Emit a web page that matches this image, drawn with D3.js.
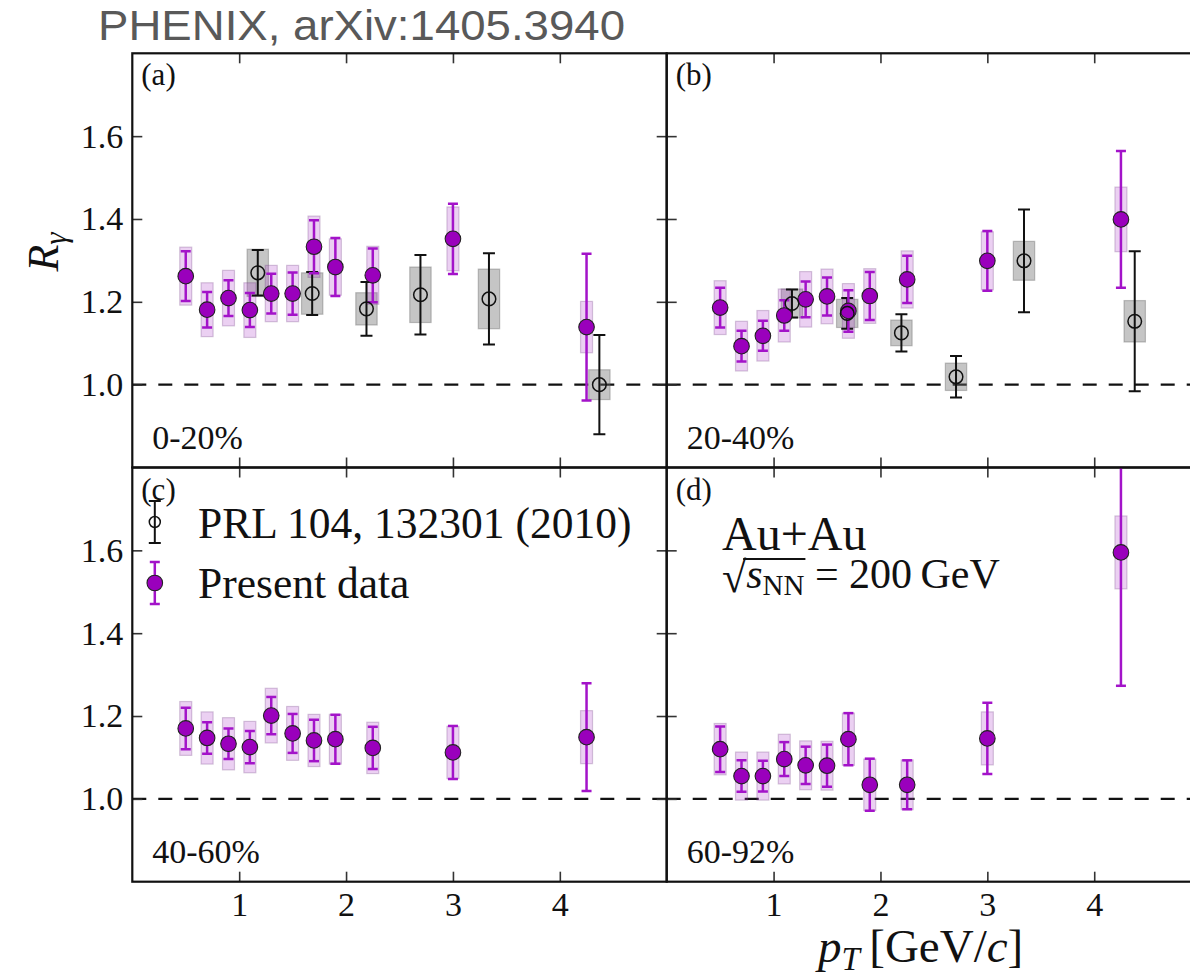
<!DOCTYPE html>
<html>
<head>
<meta charset="utf-8">
<script src="https://cdn.jsdelivr.net/npm/d3@7/dist/d3.min.js"></script>
<style>
  body { margin: 0; background: #fff; }
  svg { display: block; }
  text { font-family: "Liberation Serif", "Times New Roman", "DejaVu Serif", serif; fill: #111; }
</style>
</head>
<body>
<svg id="chart" width="1190" height="980"></svg>
<script>
// ---- data: direct photon R_gamma in Au+Au at 200 GeV, four centrality bins ----
const ptPresent = [0.5, 0.7, 0.9, 1.1, 1.3, 1.5, 1.7, 1.9, 2.25, 3.0, 4.25];

const rPresentA    = [1.262, 1.181, 1.209, 1.180, 1.220, 1.220, 1.333, 1.284, 1.264, 1.352, 1.139];
const statPresentA = [0.060, 0.043, 0.043, 0.041, 0.048, 0.051, 0.064, 0.070, 0.065, 0.085, 0.177];
const sysPresentA  = [0.070, 0.065, 0.067, 0.066, 0.068, 0.068, 0.074, 0.068, 0.070, 0.077, 0.062];

const rPresentB    = [1.186, 1.093, 1.118, 1.167, 1.206, 1.213, 1.178, 1.214, 1.254, 1.299, 1.399];
const statPresentB = [0.048, 0.037, 0.036, 0.037, 0.043, 0.046, 0.050, 0.058, 0.057, 0.072, 0.165];
const sysPresentB  = [0.065, 0.060, 0.061, 0.064, 0.067, 0.066, 0.066, 0.066, 0.069, 0.070, 0.078];

const rPresentC    = [1.170, 1.147, 1.133, 1.125, 1.201, 1.158, 1.141, 1.144, 1.123, 1.112, 1.149];
const statPresentC = [0.050, 0.038, 0.037, 0.039, 0.045, 0.047, 0.050, 0.059, 0.051, 0.064, 0.130];
const sysPresentC  = [0.065, 0.063, 0.063, 0.062, 0.066, 0.065, 0.063, 0.060, 0.062, 0.063, 0.064];

const rPresentD    = [1.120, 1.055, 1.055, 1.096, 1.081, 1.080, 1.144, 1.034, 1.034, 1.146, 1.595];
const statPresentD = [0.055, 0.038, 0.037, 0.041, 0.045, 0.051, 0.063, 0.063, 0.059, 0.086, 0.322];
const sysPresentD  = [0.062, 0.058, 0.058, 0.060, 0.059, 0.059, 0.063, 0.062, 0.060, 0.064, 0.088];

// earlier measurement, PRL 104, 132301 (2010)
const ptPrlA   = [1.174, 1.683, 2.191, 2.696, 3.337, 4.370];
const rPrlA    = [1.270, 1.220, 1.183, 1.217, 1.207, 1.000];
const statPrlA = [0.055, 0.052, 0.065, 0.096, 0.110, 0.120];
const sysPrlA  = [0.057, 0.050, 0.039, 0.067, 0.072, 0.036];

const ptPrlB   = [1.172, 1.689, 2.196, 2.707, 3.343, 4.379];
const rPrlB    = [1.196, 1.172, 1.125, 1.019, 1.299, 1.153];
const statPrlB = [0.034, 0.037, 0.045, 0.050, 0.124, 0.169];
const sysPrlB  = [0.035, 0.034, 0.031, 0.033, 0.047, 0.050];

const panelTags      = ["(a)", "(b)", "(c)", "(d)"];
const centralityBins = ["0-20%", "20-40%", "40-60%", "60-92%"];
const xTickValues    = [1, 2, 3, 4];
const yTickValues    = [1.0, 1.2, 1.4, 1.6];
const legendLabels   = ["PRL 104, 132301 (2010)", "Present data"];
const titleText      = "PHENIX, arXiv:1405.3940";

// ---- layout ----
const LEFT = 132.3, TOP = 53.3, PW = 534.4, PH = 414.2;
const X_DOMAIN = [0, 5], Y_DOMAIN = [0.8, 1.8];
const PURPLE = "#9a00bc", PURPLE_BAR = "#a313c9";
const BOX_HALF_PRESENT = 0.056, BOX_HALF_PRL = 0.1;
const R_PRESENT = 7.8, R_PRL = 6.8;

const svg = d3.select("#chart");
svg.append("rect").attr("width", 1190).attr("height", 980).attr("fill", "#fff");

const panels = [
  { col: 0, row: 0, present: [rPresentA, statPresentA, sysPresentA], prl: [ptPrlA, rPrlA, statPrlA, sysPrlA] },
  { col: 1, row: 0, present: [rPresentB, statPresentB, sysPresentB], prl: [ptPrlB, rPrlB, statPrlB, sysPrlB] },
  { col: 0, row: 1, present: [rPresentC, statPresentC, sysPresentC], prl: null },
  { col: 1, row: 1, present: [rPresentD, statPresentD, sysPresentD], prl: null }
];

const defs = svg.append("defs");

panels.forEach((p, i) => {
  const x0 = LEFT + p.col * PW, y0 = TOP + p.row * PH;
  const x = d3.scaleLinear().domain(X_DOMAIN).range([x0, x0 + PW]);
  const y = d3.scaleLinear().domain(Y_DOMAIN).range([y0 + PH, y0]);

  defs.append("clipPath").attr("id", "clip" + i)
    .append("rect").attr("x", x0).attr("y", y0).attr("width", PW).attr("height", PH);

  const g = svg.append("g").attr("clip-path", `url(#clip${i})`);

  // reference line at R = 1
  g.append("line")
    .attr("x1", x(X_DOMAIN[0])).attr("x2", x(X_DOMAIN[1]))
    .attr("y1", y(1)).attr("y2", y(1))
    .attr("stroke", "#111").attr("stroke-width", 2.2).attr("stroke-dasharray", "14,12");

  const [rP, sP, yP] = p.present;
  const present = ptPresent.map((pt, k) => ({ pt, r: rP[k], stat: sP[k], sys: yP[k] }));
  const prl = p.prl ? p.prl[0].map((pt, k) => ({ pt, r: p.prl[1][k], stat: p.prl[2][k], sys: p.prl[3][k] })) : [];

  // systematic boxes
  g.selectAll(".boxPrl").data(prl).join("rect")
    .attr("x", d => x(d.pt - BOX_HALF_PRL)).attr("width", d => x(d.pt + BOX_HALF_PRL) - x(d.pt - BOX_HALF_PRL))
    .attr("y", d => y(d.r + d.sys)).attr("height", d => y(d.r - d.sys) - y(d.r + d.sys))
    .attr("fill", "rgba(110,110,110,0.40)").attr("stroke", "rgba(90,90,90,0.35)").attr("stroke-width", 1.2);

  g.selectAll(".boxPresent").data(present).join("rect")
    .attr("x", d => x(d.pt - BOX_HALF_PRESENT)).attr("width", d => x(d.pt + BOX_HALF_PRESENT) - x(d.pt - BOX_HALF_PRESENT))
    .attr("y", d => y(d.r + d.sys)).attr("height", d => y(d.r - d.sys) - y(d.r + d.sys))
    .attr("fill", "rgba(170,60,200,0.24)").attr("stroke", "rgba(110,60,130,0.28)").attr("stroke-width", 1.2);

  // statistical error bars
  function errorBars(data, color, width, cap) {
    const eb = g.append("g").attr("stroke", color).attr("stroke-width", width);
    eb.selectAll("line.v").data(data).join("line")
      .attr("x1", d => x(d.pt)).attr("x2", d => x(d.pt))
      .attr("y1", d => y(d.r + d.stat)).attr("y2", d => y(d.r - d.stat));
    eb.selectAll("line.t").data(data).join("line")
      .attr("x1", d => x(d.pt) - cap).attr("x2", d => x(d.pt) + cap)
      .attr("y1", d => y(d.r + d.stat)).attr("y2", d => y(d.r + d.stat));
    eb.selectAll("line.b").data(data).join("line")
      .attr("x1", d => x(d.pt) - cap).attr("x2", d => x(d.pt) + cap)
      .attr("y1", d => y(d.r - d.stat)).attr("y2", d => y(d.r - d.stat));
  }
  errorBars(prl, "#111", 2, 6);
  errorBars(present, PURPLE_BAR, 2.5, 5);

  g.selectAll(".mPresent").data(present).join("circle")
    .attr("cx", d => x(d.pt)).attr("cy", d => y(d.r)).attr("r", R_PRESENT)
    .attr("fill", PURPLE).attr("stroke", "#222").attr("stroke-width", 1.1);

  g.selectAll(".mPrl").data(prl).join("circle")
    .attr("cx", d => x(d.pt)).attr("cy", d => y(d.r)).attr("r", R_PRL)
    .attr("fill", "none").attr("stroke", "#111").attr("stroke-width", 1.5);

  // axes with inward ticks on all four sides
  const tickStyle = sel => {
    sel.select(".domain").remove();
    sel.selectAll(".tick line").attr("stroke", "#333").attr("stroke-width", 1.6);
    sel.selectAll(".tick text").attr("fill", "#111").style("font-size", "34px")
      .style("font-family", "'Liberation Serif', 'Times New Roman', serif");
  };
  svg.append("g").attr("transform", `translate(0,${y0 + PH})`)
    .call(d3.axisBottom(x).tickValues(xTickValues).tickSizeInner(-10).tickSizeOuter(0).tickPadding(10)
      .tickFormat(p.row === 1 ? d3.format("d") : () => ""))
    .call(tickStyle);
  svg.append("g").attr("transform", `translate(0,${y0})`)
    .call(d3.axisTop(x).tickValues(xTickValues).tickSizeInner(-10).tickSizeOuter(0).tickFormat(() => ""))
    .call(tickStyle);
  svg.append("g").attr("transform", `translate(${x0},0)`)
    .call(d3.axisLeft(y).tickValues(yTickValues).tickSizeInner(-10).tickSizeOuter(0).tickPadding(9)
      .tickFormat(p.col === 0 ? d3.format(".1f") : () => ""))
    .call(tickStyle);
  svg.append("g").attr("transform", `translate(${x0 + PW},0)`)
    .call(d3.axisRight(y).tickValues(yTickValues).tickSizeInner(-10).tickSizeOuter(0).tickFormat(() => ""))
    .call(tickStyle);

  // frame
  svg.append("rect").attr("x", x0).attr("y", y0).attr("width", PW).attr("height", PH)
    .attr("fill", "none").attr("stroke", "#111").attr("stroke-width", 2.2);

  // panel tag and centrality bin
  svg.append("text").attr("x", x0 + 9).attr("y", y0 + 32).style("font-size", "31px").text(panelTags[i]);
  svg.append("text").attr("x", x0 + 20).attr("y", y0 + PH - 19).style("font-size", "34px").text(centralityBins[i]);
});

// ---- legend in panel (c) ----
{
  const lx = 154.8;
  const leg = svg.append("g");
  // earlier measurement entry
  leg.append("line").attr("x1", lx).attr("x2", lx).attr("y1", 501).attr("y2", 543).attr("stroke", "#111").attr("stroke-width", 2);
  [501, 543].forEach(yy => leg.append("line").attr("x1", lx - 6).attr("x2", lx + 6).attr("y1", yy).attr("y2", yy).attr("stroke", "#111").attr("stroke-width", 2));
  leg.append("circle").attr("cx", lx).attr("cy", 522).attr("r", 5.5).attr("fill", "none").attr("stroke", "#111").attr("stroke-width", 1.5);
  leg.append("text").attr("x", 198).attr("y", 538).style("font-size", "43.5px").text(legendLabels[0]);
  // present data entry
  leg.append("line").attr("x1", lx).attr("x2", lx).attr("y1", 562).attr("y2", 604).attr("stroke", PURPLE_BAR).attr("stroke-width", 2.5);
  [562, 604].forEach(yy => leg.append("line").attr("x1", lx - 5).attr("x2", lx + 5).attr("y1", yy).attr("y2", yy).attr("stroke", PURPLE_BAR).attr("stroke-width", 2.5));
  leg.append("circle").attr("cx", lx).attr("cy", 583).attr("r", R_PRESENT).attr("fill", PURPLE).attr("stroke", "#222").attr("stroke-width", 1.1);
  leg.append("text").attr("x", 198).attr("y", 598).style("font-size", "43.5px").text(legendLabels[1]);
}

// ---- collision system annotation in panel (d) ----
{
  const ax = 722, base = 588;
  svg.append("text").attr("x", ax).attr("y", 550).style("font-size", "48px").text("Au+Au");
  const energy = svg.append("text").attr("x", ax).attr("y", base).style("font-size", "42px");
  energy.append("tspan").style("font-size", "44px").attr("dy", 4).text("√");
  energy.append("tspan").style("font-style", "italic").attr("dy", -4).text("s");
  energy.append("tspan").style("font-size", "29px").attr("dy", 7).text("NN");
  energy.append("tspan").attr("dy", -7).text(" = 200\u2009GeV");
  // vinculum of the radical, spanning s_NN
  const node = energy.node();
  const xs = node.getStartPositionOfChar(1).x;
  const xe = node.getEndPositionOfChar(3).x;
  svg.append("line").attr("x1", xs - 3).attr("x2", xe + 1).attr("y1", 559).attr("y2", 559)
    .attr("stroke", "#111").attr("stroke-width", 2);
}

// ---- axis titles ----
{
  const yl = svg.append("text").attr("transform", "translate(58,252) rotate(-90)")
    .attr("text-anchor", "middle").style("font-size", "44px");
  yl.append("tspan").style("font-style", "italic").text("R");
  yl.append("tspan").style("font-style", "italic").style("font-size", "31px").attr("dy", 8).text("γ");

  const xl = svg.append("text").attr("x", 818).attr("y", 962).style("font-size", "47px");
  xl.append("tspan").style("font-style", "italic").text("p");
  xl.append("tspan").style("font-style", "italic").style("font-size", "33px").attr("dy", 8).text("T");
  xl.append("tspan").attr("dy", -8).text("\u2009[GeV/");
  xl.append("tspan").style("font-style", "italic").text("c");
  xl.append("tspan").text("]");
}

// ---- title ----
svg.append("text").attr("x", 98).attr("y", 40)
  .attr("textLength", 527).attr("lengthAdjust", "spacingAndGlyphs")
  .style("font-family", "'Liberation Sans', Arial, sans-serif").style("font-size", "43px")
  .style("fill", "#595959").text(titleText);
</script>
</body>
</html>
